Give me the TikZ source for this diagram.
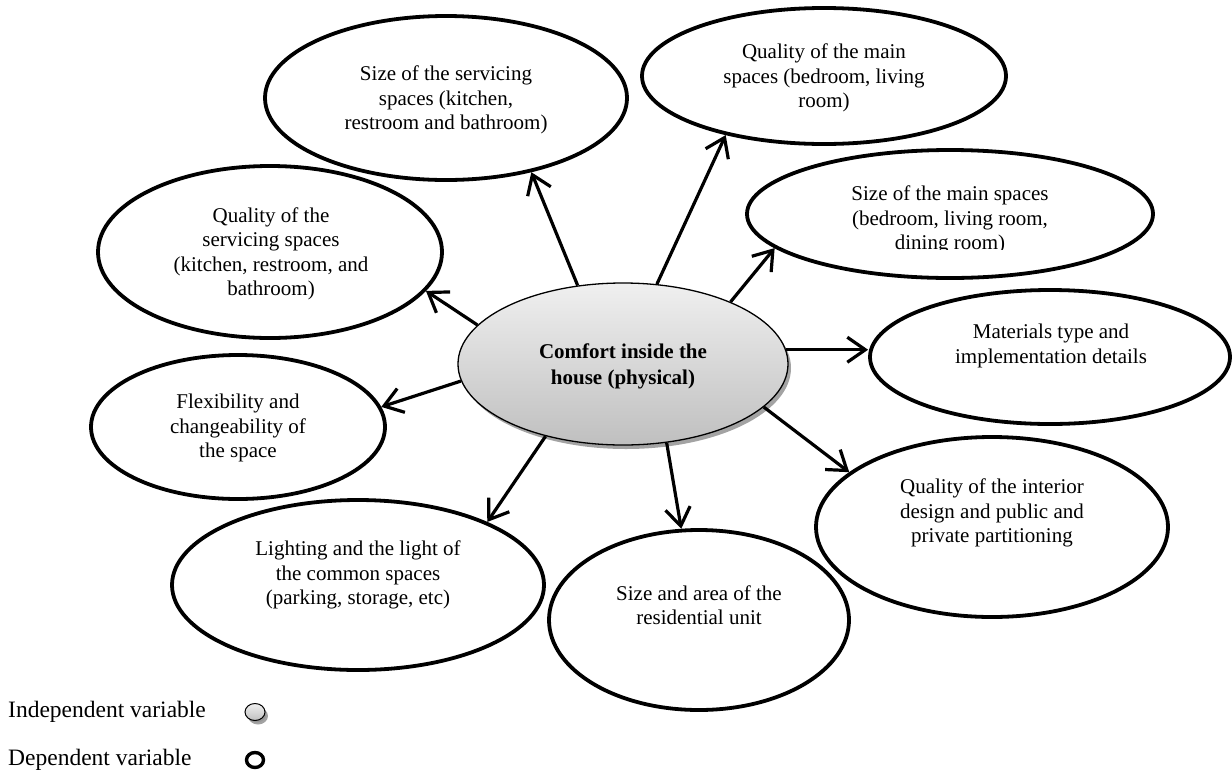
\documentclass[tikz,border=0pt]{standalone}
\usepackage{fontspec}
\setmainfont{Liberation Serif}
\usetikzlibrary{shapes.geometric,arrows.meta,shadows}

\begin{document}
\begin{tikzpicture}[x=1pt,y=-1pt,
  bubble/.style={ellipse, draw=black, line width=3.8pt, fill=white, inner sep=0pt},
  bubtext/.style={align=center, inner sep=0pt, font=\fontsize{21}{24.5}\selectfont},
  link/.style={line width=3.2pt, -{Straight Barb[length=18pt,width=25pt]}},
  core/.style={ellipse, draw=black, line width=1.3pt, inner sep=0pt,
    top color=black!6, bottom color=black!25,
    drop shadow={shadow xshift=3pt, shadow yshift=-4pt, fill=black!45, opacity=0.8}},
  legtext/.style={anchor=west, inner sep=0pt, font=\fontsize{23.5}{27}\selectfont}
]
\useasboundingbox (0,0) rectangle (1232,772);

% outer ellipses (dependent variables)
\node[bubble, minimum width=362pt, minimum height=164pt] (ss)  at (446,98)  {};
\node[bubble, minimum width=364pt, minimum height=136pt] (qm)  at (824,76)  {};
\node[bubble, minimum width=406pt, minimum height=128pt] (sm)  at (950,214) {};
\node[bubble, minimum width=360pt, minimum height=134pt] (mat) at (1050,357) {};
\node[bubble, minimum width=352pt, minimum height=180pt] (int) at (992,527) {};
\node[bubble, minimum width=300pt, minimum height=180pt] (sa)  at (699,620) {};
\node[bubble, minimum width=372pt, minimum height=170pt] (li)  at (358,585) {};
\node[bubble, minimum width=294pt, minimum height=144pt] (fl)  at (238,427) {};
\node[bubble, minimum width=344pt, minimum height=172pt] (qs)  at (270,252) {};

% central ellipse (independent variable)
\node[core, minimum width=330pt, minimum height=162pt] (c) at (623,364) {};

% texts
\node[bubtext] (tss)  at (446,100) {Size of the servicing\\spaces (kitchen,\\restroom and bathroom)};
\node[bubtext] (tqm)  at (824,78)  {Quality of the main\\spaces (bedroom, living\\room)};
\begin{scope}
  \clip (760,170) rectangle (1140,249);
  \node[bubtext] (tsm) at (950,220) {Size of the main spaces\\(bedroom, living room,\\dining room)};
\end{scope}
\node[bubtext] (tmat) at (1051,346) {Materials type and\\implementation details};
\node[bubtext] (tint) at (992,513) {Quality of the interior\\design and public and\\private partitioning};
\node[bubtext] (tsa)  at (699,605) {Size and area of the\\residential unit};
\node[bubtext] (tli)  at (358,575) {Lighting and the light of\\the common spaces\\(parking, storage, etc)};
\node[bubtext] (tfl)  at (238,428) {Flexibility and\\changeability of\\the space};
\node[bubtext] (tqs)  at (271,254) {Quality of the\\servicing spaces\\(kitchen, restroom, and\\bathroom)};
\node[bubtext, font=\bfseries\fontsize{21}{26}\selectfont] (tc) at (623,366) {Comfort inside the\\house (physical)};

% connectors
\draw[link] (c.120.9)  -- (ss.-41.6);
\draw[link] (c.67.9)   -- (qm.211.6);
\draw[link] (c.30.1)   -- (sm.191.2);
\draw[link] (c.5.8)    -- (c.5.8 -| mat.west);
\draw[link] (c.-17.2)  -- (int.159.9);
\draw[link] (c.-61.5)  -- (sa.101.9);
\draw[link] (c.-137.2) -- (li.26.4);
\draw[link] (c.186.6)  -- (fl.8.5);
\draw[link] (c.165.3)  -- (qs.-14.9);

% legend
\node[legtext] (lind) at (8,712) {Independent variable};
\node[core, line width=1pt, minimum width=20pt, minimum height=17pt,
  drop shadow={shadow xshift=1.5pt, shadow yshift=-2pt, fill=black!45}] (sind) at (255,712) {};
\node[legtext] (ldep) at (8,760) {Dependent variable};
\node[ellipse, draw=black, line width=3.4pt, inner sep=0pt,
  minimum width=17pt, minimum height=15pt] (sdep) at (255,760) {};
\end{tikzpicture}
\end{document}
